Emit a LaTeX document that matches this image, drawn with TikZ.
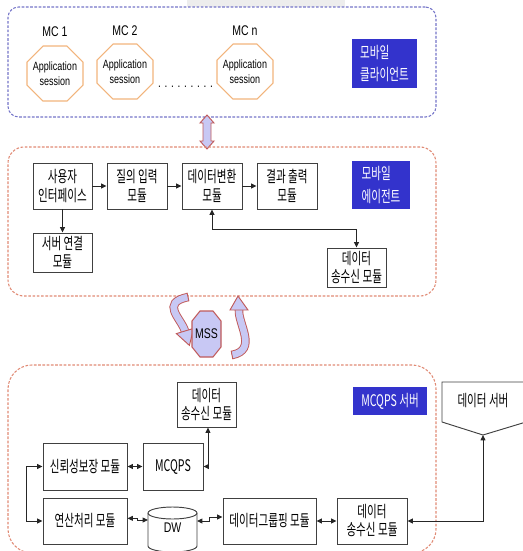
\documentclass[tikz,border=0pt]{standalone}
\usepackage{fontspec}
\setmainfont[FakeStretch=0.66]{Noto Sans CJK KR}
\newfontfamily\latinf[FakeStretch=0.75]{Liberation Sans}
\usetikzlibrary{arrows.meta}
\definecolor{dashblue}{HTML}{7474C8}
\definecolor{dashred}{HTML}{E08A74}
\definecolor{octorange}{HTML}{F2B47C}
\definecolor{boxblue}{HTML}{3333CC}
\definecolor{lav}{HTML}{C8C8F4}
\definecolor{arred}{HTML}{C05A5A}
\newcommand\octo[7]{%
 \path[#7] ({#1-#3+#5},{#2-#4}) -- ({#1+#3-#5},{#2-#4}) -- ({#1+#3},{#2-#4+#6}) -- ({#1+#3},{#2+#4-#6}) -- ({#1+#3-#5},{#2+#4}) -- ({#1-#3+#5},{#2+#4}) -- ({#1-#3},{#2+#4-#6}) -- ({#1-#3},{#2-#4+#6}) -- cycle;}
\begin{document}
\begin{tikzpicture}[x=0.75pt,y=-0.75pt,
  sz/.style 2 args={minimum width=#1*0.75pt, minimum height=#2*0.75pt},
  kbox/.style={draw=black!75, line width=0.7pt, fill=white, inner sep=0pt, align=center, font=\fontsize{12}{14}\selectfont},
  bluebox/.style={fill=boxblue, text=white, inner sep=0pt, align=left, font=\fontsize{12}{17}\selectfont},
  con/.style={draw=black!85, line width=0.7pt},
  arr/.style={-{Triangle[length=4pt,width=3.6pt]}},
  twoway/.style={{Triangle[length=4pt,width=3.6pt]}-{Triangle[length=4pt,width=3.6pt]}},
  bluegroup/.style={draw=dashblue, line width=0.8pt, dash pattern=on 2pt off 1.2pt},
  redgroup/.style={draw=dashred, line width=0.8pt, dash pattern=on 2pt off 1.2pt},
  mcfont/.style={font=\latinf\fontsize{10.5}{12}\selectfont},
  appfont/.style={font=\latinf\fontsize{9}{11.25}\selectfont, align=center},
  fat/.style={draw=arred, fill=lav, line width=0.7pt}]
\useasboundingbox (0,0) rectangle (523,551);
\fill[gray!14] (187,0) rectangle (345,7);

% ---------- mobile client ----------
\node[bluegroup, rounded corners=8pt, sz={428}{110}] (clientgrp) at (222,62) {};
\node[mcfont] (mc1) at (55,32) {MC 1};
\node[mcfont] (mc2) at (125,31) {MC 2};
\node[mcfont] (mcn) at (245,31) {MC n};
\octo{55}{73.5}{28}{27.5}{16}{16}{draw=octorange, line width=0.8pt, fill=white}
\octo{125}{71.5}{28}{27.5}{16}{16}{draw=octorange, line width=0.8pt, fill=white}
\octo{245}{71.5}{28}{27.5}{16}{16}{draw=octorange, line width=0.8pt, fill=white}
\node[appfont] (as1) at (55,74) {Application\\session};
\node[appfont] (as2) at (125,72) {Application\\session};
\node[appfont] (asn) at (245,72) {Application\\session};
\node[font=\latinf\fontsize{10}{12}\selectfont] (dots) at (185.5,87) {.\kern2.8pt.\kern2.8pt.\kern2.8pt.\kern2.8pt.\kern2.8pt.\kern2.8pt.\kern2.8pt.\kern2.8pt.};
\node[bluebox, sz={65}{49}] (client) at (384.5,63.5) {모바일\\클라이언트};

% fat double arrow
\path[fat] (207,115) -- (214,123) -- (211,123) -- (211,141) -- (214,141) -- (207,149) -- (200,141) -- (203,141) -- (203,123) -- (200,123) -- cycle;

% ---------- mobile agent ----------
\node[redgroup, rounded corners=12pt, sz={428}{149}] (agentgrp) at (222,221.5) {};
\node[kbox, sz={59}{46}] (ui) at (62.5,186) {사용자\\인터페이스};
\node[kbox, sz={60}{46}] (qin) at (137,186) {질의 입력\\모듈};
\node[kbox, sz={60}{46}] (conv) at (212,186) {데이터변환\\모듈};
\node[kbox, sz={60}{46}] (res) at (287,186) {결과 출력\\모듈};
\node[kbox, sz={59}{39}] (srv) at (62.5,252.5) {서버 연결\\모듈};
\node[kbox, sz={59}{39}] (trxa) at (356.5,267.5) {데이터\\송수신 모듈};
\node[bluebox, sz={58}{48}] (agent) at (381,185) {모바일\\에이전트};
\draw[con, arr] (ui) -- (qin);
\draw[con, arr] (qin) -- (conv);
\draw[con, arr] (conv) -- (res);
\draw[con, arr] (ui) -- (srv);
\coordinate (mid) at (0,229);
\draw[con, twoway] (conv.south) -- (conv.south |- mid) -| (trxa.north);

% ---------- MSS ----------
\draw[double=lav, double distance=5pt, draw=arred, line width=0.7pt] (188,297) .. controls (160,303) and (181,318) .. (185,331);
\draw[arred, line width=0.7pt] (188.9,301.2) -- (187.1,292.8);
\path[fat] (176.4,333.6) -- (189.4,345.4) -- (193.6,328.4) -- cycle;
\draw[double=lav, double distance=5pt, draw=arred, line width=0.7pt] (232,355) .. controls (258,350) and (238,324) .. (239,310);
\draw[arred, line width=0.7pt] (232.8,359.2) -- (231.2,350.8);
\path[fat] (230,310) -- (238,296) -- (248,310) -- cycle;
\octo{206.5}{334}{14.5}{23}{8}{10}{draw=arred, fill=lav, line width=0.8pt}
\node[font=\latinf\fontsize{10.5}{12}\selectfont] (mss) at (206.5,334) {MSS};

% ---------- MCQPS server ----------
\node[redgroup, rounded corners=18pt, sz={428}{188}] (servergrp) at (222,459) {};
\node[kbox, sz={59}{45}, font=\fontsize{12}{13.5}\selectfont] (trxs) at (206.5,404.5) {데이터\\송수신 모듈};
\node[bluebox, sz={74}{28}] (srvlbl) at (390,401) {MCQPS 서버};
\draw[draw=black!75, line width=0.7pt, fill=white] (442,382) -- (526,382) -- (526,422) -- (483,435) -- (442,422) -- cycle;
\node[font=\fontsize{12}{14}\selectfont] (dsrv) at (483,401) {데이터 서버};
\coordinate (dstip) at (483,435);
\node[kbox, sz={84}{47}] (rel) at (85,466.5) {신뢰성보장 모듈};
\node[kbox, sz={60}{47}] (mcq) at (173,466.5) {MCQPS};
\node[kbox, sz={84}{46}] (calc) at (85,521) {연산처리 모듈};
\draw[draw=black!75, line width=0.7pt, fill=white] (148,513) -- (148,546) arc[start angle=180, end angle=360, x radius=18.375pt, y radius=4.5pt] -- (197,513) arc[start angle=0, end angle=180, x radius=18.375pt, y radius=4.5pt] -- cycle;
\draw[draw=black!75, line width=0.7pt] (148,513) arc[start angle=180, end angle=360, x radius=18.375pt, y radius=4.5pt];
\node[font=\latinf\fontsize{10.5}{12}\selectfont] (dw) at (172.5,528) {DW};
\coordinate (dwl) at (148,520);
\coordinate (dwr) at (197,521);
\node[kbox, sz={93}{46}] (grp) at (269.5,521) {데이터그룹핑 모듈};
\node[kbox, sz={70}{46}, font=\fontsize{12}{13.5}\selectfont] (trxb) at (372,521) {데이터\\송수신 모듈};

\draw[con, twoway] (rel) -- (mcq);
\draw[con, twoway] (mcq.east) -| ([xshift=1.1pt]trxs.south);
\draw[con, twoway] (rel.west) -- ++(-16,0) |- (calc.west);
\draw[con, twoway] ([yshift=2pt]calc.east) -- ++(10,0) |- (dwl);
\draw[con, twoway] (dwr) -- ++(12,0) |- ([yshift=3pt]grp.west);
\draw[con, twoway] (grp) -- (trxb);
\draw[con, twoway] (trxb.east) -| (dstip);
\end{tikzpicture}
\end{document}
